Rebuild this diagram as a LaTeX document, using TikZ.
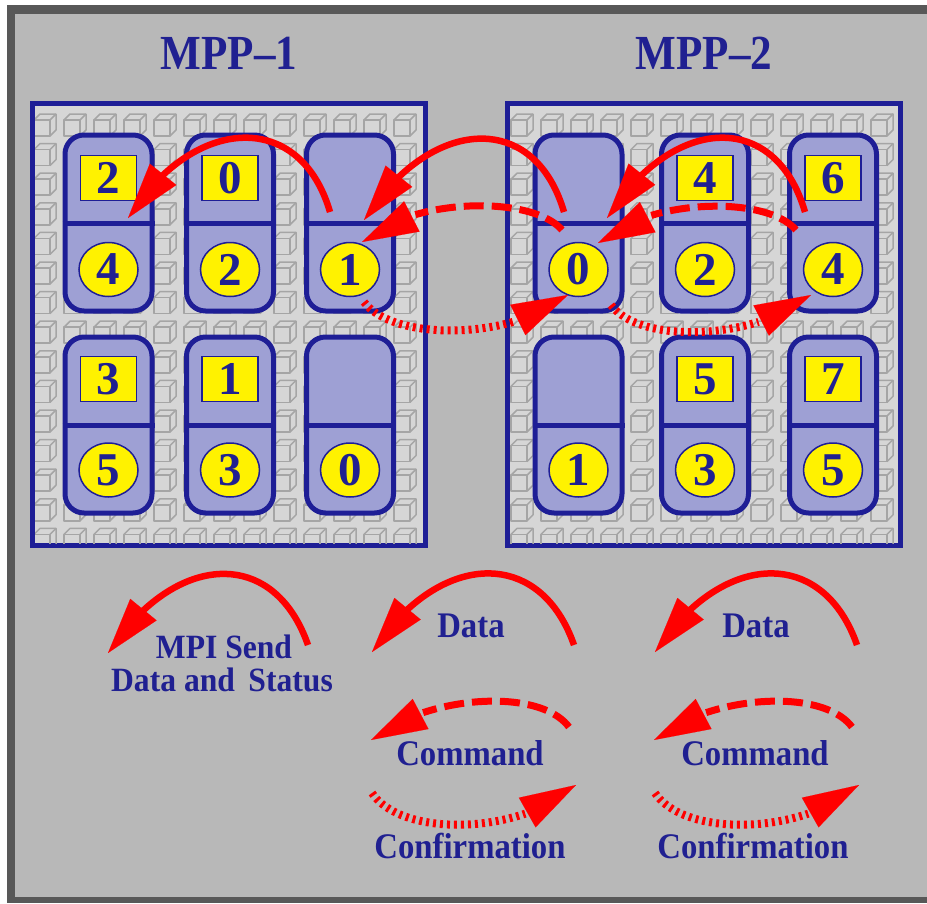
\documentclass[tikz,border=0pt]{standalone}
\usepackage{fontspec}
\usepackage{graphicx}
\setmainfont{Liberation Serif}
\usetikzlibrary{arrows.meta,bending,shapes.geometric}

\definecolor{framegray}{RGB}{88,88,88}
\definecolor{fieldgray}{RGB}{184,184,184}
\definecolor{boardgray}{RGB}{214,214,214}
\definecolor{cubegray}{RGB}{165,165,165}
\definecolor{navy}{RGB}{30,30,150}
\definecolor{ink}{RGB}{32,32,145}
\definecolor{slot}{RGB}{158,160,212}
\definecolor{flowred}{RGB}{255,0,0}

\tikzset{
  mppbox/.style={draw=navy, line width=5pt, fill=boardgray, minimum width=393pt,
    minimum height=442pt, inner sep=0pt},
  card/.style={draw=navy, line width=5pt, fill=slot, rounded corners=19pt,
    minimum width=87pt, minimum height=176pt, inner sep=0pt},
  divider/.style={navy, line width=5pt},
  tag/.style={draw=navy, line width=1.5pt, fill=yellow, minimum width=56pt,
    minimum height=45pt, inner sep=0pt, text=ink,
    font=\fontsize{47}{47}\selectfont\bfseries},
  rankdisc/.style={ellipse, draw=navy, line width=1.5pt, fill=yellow,
    minimum width=59pt, minimum height=54pt, inner sep=0pt, text=ink,
    font=\fontsize{47}{47}\selectfont\bfseries},
  mpplabel/.style={text=ink, font=\fontsize{49}{49}\selectfont\bfseries, inner sep=0pt},
  keytext/.style={text=ink, font=\fontsize{36}{36}\selectfont\bfseries,
    inner sep=0pt, anchor=base},
  sendtext/.style={text=ink, font=\fontsize{34}{34}\selectfont\bfseries,
    inner sep=0pt, anchor=base},
  datalink/.style={flowred, line width=6.5pt,
    -{Triangle[length=56pt,width=34pt,line width=0.1pt]}},
  cmdlink/.style={datalink, line width=7pt, dash pattern=on 20pt off 8pt},
  acklink/.style={datalink, line width=8pt, dash pattern=on 3pt off 4pt},
  cubeline/.style={cubegray, line width=1.5pt, line join=round},
  cube/.pic={
    \draw[cubeline] (0,6) rectangle (16,22);
    \draw[cubeline] (0,6) -- (6,0) -- (22,0) -- (22,16) -- (16,22);
    \draw[cubeline] (16,6) -- (22,0);
  },
}

\begin{document}
\begin{tikzpicture}[x=1pt,y=-1pt]
\useasboundingbox (0,0) rectangle (927,903);
\fill[white] (0,0) rectangle (927,903);
\fill[framegray] (7,5) rectangle (927,903);
\fill[fieldgray] (15,14) rectangle (927,897);

% machine titles
\node[mpplabel] (lab1) at (229,53.5) {\scalebox{0.88}[1]{MPP--1}};
\node[mpplabel] (lab2) at (704,53.5) {\scalebox{0.88}[1]{MPP--2}};

% machine boards
\node[mppbox] (mpp1) at (229,324.5) {};
\node[mppbox] (mpp2) at (704,324.5) {};

% processor texture on the boards
\begin{scope}
  \clip (35,106) rectangle (423,543);
  \foreach \i in {0,...,12}
    \foreach \j in {0,...,14}
      \pic at ({34+30*\i},{114+29.6*\j}) {cube};
\end{scope}
\begin{scope}
  \clip (510,106) rectangle (898,543);
  \foreach \i in {0,...,12}
    \foreach \j in {0,...,14}
      \pic at ({511+30*\i},{114+29.6*\j}) {cube};
\end{scope}

% processor slots, MPP-1
\node[card] (p1a) at (108.5,223) {};
\node[card] (p1b) at (230,223) {};
\node[card] (p1c) at (350,223) {};
\node[card] (p1d) at (108.5,425) {};
\node[card] (p1e) at (230,425) {};
\node[card] (p1f) at (350,425) {};
% processor slots, MPP-2
\node[card] (p2a) at (578.5,223) {};
\node[card] (p2b) at (705,223) {};
\node[card] (p2c) at (833,223) {};
\node[card] (p2d) at (578.5,425) {};
\node[card] (p2e) at (705,425) {};
\node[card] (p2f) at (833,425) {};

\foreach \c in {p1a,p1b,p1c,p1d,p1e,p1f,p2a,p2b,p2c,p2d,p2e,p2f}
  \draw[divider] (\c.west) -- (\c.east);

% task ids (squares) and ranks (discs), MPP-1
\node[tag] (p1at) at (108.5,178) {2};
\node[tag] (p1bt) at (230,178) {0};
\node[tag] (p1dt) at (108.5,379) {3};
\node[tag] (p1et) at (230,379) {1};
\node[rankdisc] (p1ar) at (108.5,269.5) {4};
\node[rankdisc] (p1br) at (230,269.5) {2};
\node[rankdisc] (p1cr) at (350,269.5) {1};
\node[rankdisc] (p1dr) at (108.5,470) {5};
\node[rankdisc] (p1er) at (230,470) {3};
\node[rankdisc] (p1fr) at (350,470) {0};
% task ids (squares) and ranks (discs), MPP-2
\node[tag] (p2bt) at (705,178) {4};
\node[tag] (p2ct) at (833,178) {6};
\node[tag] (p2et) at (705,379) {5};
\node[tag] (p2ft) at (833,379) {7};
\node[rankdisc] (p2ar) at (578.5,269.5) {0};
\node[rankdisc] (p2br) at (705,269.5) {2};
\node[rankdisc] (p2cr) at (833,269.5) {4};
\node[rankdisc] (p2dr) at (578.5,470) {1};
\node[rankdisc] (p2er) at (705,470) {3};
\node[rankdisc] (p2fr) at (833,470) {5};

% message end points
\coordinate (s11) at (330,212);  \coordinate (e11) at (128,218);
\coordinate (s21) at (564,212);  \coordinate (e21) at (364,220);
\coordinate (s22) at (805,212);  \coordinate (e22) at (607,218);
\coordinate (c21) at (562,230);  \coordinate (d21) at (362,242);
\coordinate (c22) at (796,230);  \coordinate (d22) at (598,243);
\coordinate (k21) at (364,302);  \coordinate (m21) at (568,295);
\coordinate (k22) at (611,305);  \coordinate (m22) at (811,295);

% MPI sends, commands and confirmations
\draw[datalink] (s11) .. controls +(-30,-103) and +(65,-103) .. (e11);
\draw[datalink] (s21) .. controls +(-30,-103) and +(65,-103) .. (e21);
\draw[datalink] (s22) .. controls +(-30,-103) and +(65,-103) .. (e22);
\draw[cmdlink] (c21) .. controls +(-30,-35) and +(50,-45) .. (d21);
\draw[cmdlink] (c22) .. controls +(-30,-35) and +(50,-45) .. (d22);
\draw[acklink] (k21) .. controls +(30,40) and +(-55,45) .. (m21);
\draw[acklink] (k22) .. controls +(30,40) and +(-55,45) .. (m22);

% key
\coordinate (ks0) at (308,645);  \coordinate (ke0) at (108,653);
\coordinate (ks1) at (574,645);  \coordinate (ke1) at (372,652);
\coordinate (ks2) at (857,645);  \coordinate (ke2) at (655,652);
\coordinate (kc1) at (569,727);  \coordinate (kd1) at (371,740);
\coordinate (kc2) at (852,727);  \coordinate (kd2) at (654,740);
\coordinate (ka1) at (372,793);  \coordinate (kb1) at (576,785);
\coordinate (ka2) at (655,793);  \coordinate (kb2) at (859,785);

\draw[datalink] (ks0) .. controls +(-35,-100) and +(65,-100) .. (ke0);
\draw[datalink] (ks1) .. controls +(-35,-100) and +(65,-100) .. (ke1);
\draw[datalink] (ks2) .. controls +(-35,-100) and +(65,-100) .. (ke2);
\draw[cmdlink] (kc1) .. controls +(-30,-40) and +(55,-45) .. (kd1);
\draw[cmdlink] (kc2) .. controls +(-30,-40) and +(55,-45) .. (kd2);
\draw[acklink] (ka1) .. controls +(30,45) and +(-55,50) .. (kb1);
\draw[acklink] (ka2) .. controls +(30,45) and +(-55,50) .. (kb2);

\node[sendtext] (send1) at (224,658) {\scalebox{0.93}[1]{MPI Send}};
\node[sendtext] (send2) at (222,691) {\scalebox{0.93}[1]{Data and\hspace{6pt} Status}};
\node[keytext] (data1) at (471,637) {\scalebox{0.91}[1]{Data}};
\node[keytext] (data2) at (756,637) {\scalebox{0.91}[1]{Data}};
\node[keytext] (cmd1) at (470,765) {\scalebox{0.91}[1]{Command}};
\node[keytext] (cmd2) at (755,765) {\scalebox{0.91}[1]{Command}};
\node[keytext] (conf1) at (470,858) {\scalebox{0.91}[1]{Confirmation}};
\node[keytext] (conf2) at (753,858) {\scalebox{0.91}[1]{Confirmation}};
\end{tikzpicture}
\end{document}
